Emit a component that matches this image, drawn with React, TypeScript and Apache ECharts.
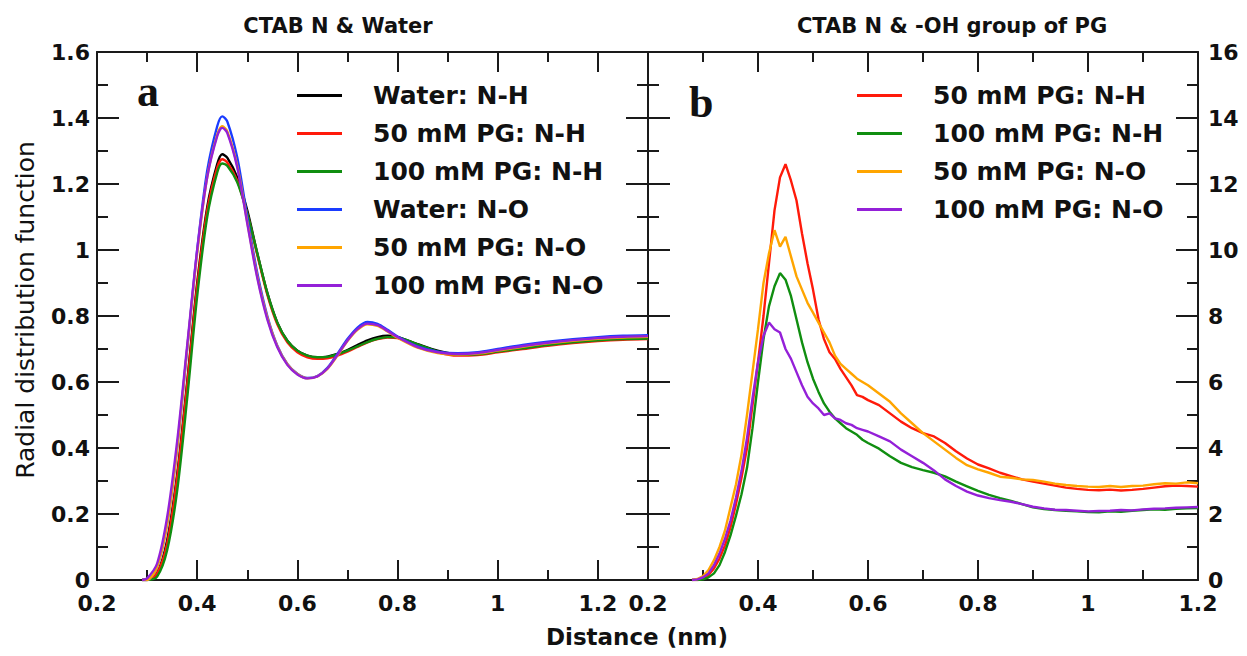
import React, { useEffect, useRef } from 'react';
import * as echarts from 'echarts';

// ---------- Panel a : CTAB N & Water ----------
const LEFT_X = [0.29, 0.30, 0.32, 0.34, 0.36, 0.38, 0.40, 0.42, 0.44, 0.45, 0.46, 0.48, 0.50, 0.52, 0.54, 0.56, 0.58, 0.60, 0.62, 0.64, 0.66, 0.68, 0.70, 0.72, 0.74, 0.76, 0.78, 0.80, 0.84, 0.88, 0.92, 0.96, 1.00, 1.05, 1.10, 1.15, 1.20, 1.25, 1.30];
const WATER_NH = [0, 0, 0.02, 0.12, 0.32, 0.60, 0.90, 1.13, 1.26, 1.29, 1.28, 1.22, 1.12, 0.99, 0.87, 0.78, 0.725, 0.695, 0.68, 0.675, 0.677, 0.685, 0.697, 0.712, 0.726, 0.736, 0.74, 0.737, 0.715, 0.695, 0.685, 0.687, 0.695, 0.705, 0.715, 0.723, 0.729, 0.733, 0.735];
const PG50_NH = [0, 0, 0.02, 0.11, 0.31, 0.59, 0.89, 1.12, 1.25, 1.275, 1.265, 1.21, 1.11, 0.985, 0.865, 0.775, 0.72, 0.69, 0.675, 0.67, 0.672, 0.68, 0.692, 0.706, 0.72, 0.73, 0.735, 0.733, 0.712, 0.69, 0.68, 0.682, 0.69, 0.70, 0.71, 0.718, 0.724, 0.728, 0.73];
const PG100_NH = [0, 0, 0.01, 0.09, 0.27, 0.55, 0.86, 1.10, 1.235, 1.262, 1.255, 1.205, 1.11, 0.99, 0.87, 0.78, 0.725, 0.695, 0.68, 0.675, 0.676, 0.684, 0.695, 0.708, 0.721, 0.731, 0.736, 0.735, 0.714, 0.693, 0.683, 0.684, 0.692, 0.702, 0.712, 0.72, 0.726, 0.73, 0.732];
const WATER_NO = [0, 0, 0.04, 0.17, 0.40, 0.70, 1.00, 1.24, 1.375, 1.405, 1.39, 1.28, 1.10, 0.93, 0.80, 0.71, 0.655, 0.625, 0.612, 0.618, 0.643, 0.685, 0.73, 0.765, 0.782, 0.776, 0.758, 0.738, 0.708, 0.692, 0.687, 0.69, 0.70, 0.712, 0.722, 0.73, 0.736, 0.74, 0.742];
const PG50_NO = [0, 0, 0.04, 0.17, 0.40, 0.70, 0.99, 1.22, 1.35, 1.375, 1.36, 1.255, 1.085, 0.92, 0.795, 0.708, 0.654, 0.624, 0.611, 0.617, 0.64, 0.68, 0.724, 0.758, 0.775, 0.77, 0.753, 0.734, 0.704, 0.688, 0.683, 0.686, 0.695, 0.707, 0.717, 0.725, 0.731, 0.735, 0.737];
const PG100_NO = [0, 0.005, 0.05, 0.19, 0.42, 0.71, 1.0, 1.22, 1.345, 1.37, 1.355, 1.25, 1.08, 0.915, 0.79, 0.705, 0.652, 0.623, 0.611, 0.617, 0.641, 0.682, 0.726, 0.76, 0.777, 0.772, 0.755, 0.736, 0.706, 0.69, 0.685, 0.688, 0.697, 0.709, 0.719, 0.727, 0.733, 0.737, 0.739];

// ---------- Panel b : CTAB N & -OH group of PG ----------
const RIGHT_X = [0.28, 0.29, 0.30, 0.31, 0.32, 0.33, 0.34, 0.35, 0.36, 0.37, 0.38, 0.39, 0.40, 0.41, 0.42, 0.43, 0.44, 0.45, 0.46, 0.47, 0.48, 0.49, 0.50, 0.51, 0.52, 0.53, 0.54, 0.55, 0.56, 0.57, 0.58, 0.59, 0.60,
  0.62, 0.64, 0.66, 0.68, 0.70, 0.72, 0.74, 0.76, 0.78, 0.80, 0.82, 0.84, 0.86, 0.88, 0.90, 0.92, 0.94, 0.96, 0.98, 1.00, 1.02, 1.04, 1.06, 1.08, 1.10, 1.12, 1.14, 1.16, 1.18, 1.20];
const OH_PG50_NH = [0, 0, 0.05, 0.15, 0.35, 0.65, 1.05, 1.6, 2.3, 3.1, 4.0, 5.3, 6.6, 8.0, 9.6, 11.2, 12.2, 12.6, 12.1, 11.5, 10.5, 9.6, 8.8, 7.9, 7.3, 6.9, 6.7, 6.4, 6.15, 5.9, 5.6, 5.55, 5.45,
  5.3, 5.05, 4.8, 4.6, 4.45, 4.35, 4.15, 3.9, 3.68, 3.5, 3.38, 3.25, 3.15, 3.05, 2.98, 2.92, 2.86, 2.8, 2.76, 2.73, 2.72, 2.74, 2.71, 2.73, 2.76, 2.8, 2.84, 2.86, 2.85, 2.83];
const OH_PG100_NH = [0, 0, 0.02, 0.08, 0.2, 0.45, 0.85, 1.35, 1.95, 2.6, 3.4, 4.6, 6.0, 7.3, 8.3, 8.9, 9.3, 9.1, 8.6, 7.9, 7.2, 6.6, 6.1, 5.7, 5.35, 5.1, 4.9, 4.75, 4.6, 4.5, 4.4, 4.25, 4.15,
  3.98, 3.75, 3.55, 3.42, 3.33, 3.25, 3.14, 2.98, 2.84, 2.7, 2.58, 2.48, 2.4, 2.3, 2.2, 2.15, 2.12, 2.1, 2.08, 2.06, 2.05, 2.08, 2.07, 2.1, 2.12, 2.14, 2.13, 2.16, 2.17, 2.18];
const OH_PG50_NO = [0, 0.03, 0.12, 0.3, 0.6, 1.0, 1.5, 2.2, 2.9, 3.8, 5.0, 6.3, 7.6, 9.0, 9.9, 10.6, 10.1, 10.4, 9.8, 9.2, 8.8, 8.4, 8.1, 7.8, 7.5, 7.2, 6.8, 6.55, 6.4, 6.25, 6.1, 6.0, 5.9,
  5.65, 5.4, 5.05, 4.75, 4.45, 4.2, 3.95, 3.7, 3.48, 3.35, 3.25, 3.13, 3.1, 3.05, 3.03, 2.98, 2.92, 2.88, 2.85, 2.83, 2.82, 2.85, 2.82, 2.85, 2.86, 2.9, 2.93, 2.92, 2.96, 2.93];
const OH_PG100_NO = [0, 0.02, 0.08, 0.2, 0.45, 0.8, 1.25, 1.8, 2.5, 3.3, 4.3, 5.5, 6.6, 7.4, 7.8, 7.6, 7.5, 7.0, 6.7, 6.3, 5.9, 5.55, 5.35, 5.2, 5.0, 5.05, 4.9, 4.85, 4.75, 4.7, 4.6, 4.55, 4.5,
  4.35, 4.2, 3.95, 3.75, 3.55, 3.32, 3.05, 2.85, 2.68, 2.56, 2.48, 2.42, 2.37, 2.3, 2.22, 2.17, 2.13, 2.12, 2.1, 2.08, 2.09, 2.1, 2.12, 2.11, 2.14, 2.16, 2.17, 2.19, 2.2, 2.21];

const NAME_WATER_NH = 'Water: N-H';
const NAME_PG50_NH = '50 mM PG: N-H';
const NAME_PG100_NH = '100 mM PG: N-H';
const NAME_WATER_NO = 'Water: N-O';
const NAME_PG50_NO = '50 mM PG: N-O';
const NAME_PG100_NO = '100 mM PG: N-O';

const COL_BLACK = '#000000';
const COL_RED = '#ff1a0a';
const COL_GREEN = '#108e10';
const COL_BLUE = '#1a3cff';
const COL_ORANGE = '#ffa500';
const COL_PURPLE = '#9420d8';

const FONT = "'DejaVu Sans', 'Liberation Sans', Arial, sans-serif";
const AX = '#1a1a1a';

function axis(gridIndex: number, position: string, min: number, max: number, interval: number, major: boolean, labels: boolean, isX: boolean, extra: any = {}) {
  return {
    type: 'value',
    gridIndex,
    position,
    min,
    max,
    interval,
    axisLine: { show: major, onZero: false, lineStyle: { color: AX, width: 2 } },
    axisTick: { show: true, inside: true, length: major ? (isX ? 20 : 22) : (isX ? 10 : 11), lineStyle: { color: AX, width: 2 } },
    axisLabel: {
      show: labels,
      color: '#111',
      fontFamily: FONT,
      fontWeight: 'bold',
      fontSize: 22,
      margin: isX ? 12 : 7,
      ...extra,
    },
    splitLine: { show: false },
    z: major ? 3 : 2,
  };
}

function pairs(xs: number[], ys: number[]) {
  return xs.map((x, i) => [x, ys[i]]);
}

function line(name: string, color: string, xs: number[], ys: number[], xi: number, yi: number, smooth: boolean | number) {
  return {
    type: 'line',
    name,
    xAxisIndex: xi,
    yAxisIndex: yi,
    data: pairs(xs, ys),
    symbol: 'none',
    showSymbol: false,
    smooth,
    lineStyle: { color, width: 2.4 },
    itemStyle: { color },
    z: 4,
  };
}

const legendText = { fontFamily: FONT, fontWeight: 'bold', fontSize: 25, lineHeight: 24, color: '#111', padding: [0, 0, 0, 26] };
const legendBase = {
  orient: 'vertical', itemWidth: 45, itemHeight: 3, itemGap: 13, icon: 'rect', padding: 0,
  selectedMode: false, textStyle: legendText,
};

export default function App() {
  const ref = useRef<HTMLDivElement>(null);
  useEffect(() => {
    const chart = echarts.init(ref.current!, undefined, { renderer: 'svg' });
    const option: any = {
      animation: false,
      backgroundColor: '#ffffff',
      grid: [
        { left: 97, top: 52, width: 551, height: 528 },
        { left: 648, top: 52, width: 550, height: 528 },
      ],
      xAxis: [
        axis(0, 'bottom', 0.2, 1.3, 0.2, true, true, true, { formatter: (v: number) => (v > 1.25 ? '' : String(v)) }),
        axis(0, 'bottom', 0.2, 1.3, 0.1, false, false, true),
        axis(0, 'top', 0.2, 1.3, 0.2, true, false, true),
        axis(0, 'top', 0.2, 1.3, 0.1, false, false, true),
        axis(1, 'bottom', 0.2, 1.2, 0.2, true, true, true),
        axis(1, 'bottom', 0.2, 1.2, 0.1, false, false, true),
        axis(1, 'top', 0.2, 1.2, 0.2, true, false, true),
        axis(1, 'top', 0.2, 1.2, 0.1, false, false, true),
      ],
      yAxis: [
        axis(0, 'left', 0, 1.6, 0.2, true, true, false),
        axis(0, 'left', 0, 1.6, 0.1, false, false, false),
        axis(0, 'right', 0, 1.6, 0.2, true, false, false),
        axis(0, 'right', 0, 1.6, 0.1, false, false, false),
        axis(1, 'left', 0, 16, 2, true, false, false),
        axis(1, 'left', 0, 16, 1, false, false, false),
        axis(1, 'right', 0, 16, 2, true, true, false, { margin: 10 }),
        axis(1, 'right', 0, 16, 1, false, false, false),
      ],
      legend: [
        {
          ...legendBase,
          data: [NAME_WATER_NH, NAME_PG50_NH, NAME_PG100_NH, NAME_WATER_NO, NAME_PG50_NO, NAME_PG100_NO],
          left: 297, top: 83,
        },
        {
          ...legendBase,
          data: [NAME_PG50_NH, NAME_PG100_NH, NAME_PG50_NO, NAME_PG100_NO],
          left: 857, top: 83,
        },
      ],
      graphic: [
        { type: 'text', x: 338, y: 26, style: { text: 'CTAB N & Water', font: `bold 21px ${FONT}`, fill: '#111', textAlign: 'center', textVerticalAlign: 'middle' } },
        { type: 'text', x: 952, y: 26, style: { text: 'CTAB N & -OH group of PG', font: `bold 21px ${FONT}`, fill: '#111', textAlign: 'center', textVerticalAlign: 'middle' } },
        { type: 'text', x: 137, y: 113, style: { text: 'a', font: `bold 44px 'Liberation Serif', 'DejaVu Serif', serif`, fill: '#111', textAlign: 'left', textVerticalAlign: 'bottom' } },
        { type: 'text', x: 689, y: 124, style: { text: 'b', font: `bold 44px 'Liberation Serif', 'DejaVu Serif', serif`, fill: '#111', textAlign: 'left', textVerticalAlign: 'bottom' } },
        { type: 'text', x: 637, y: 637, style: { text: 'Distance (nm)', font: `bold 23px ${FONT}`, fill: '#111', textAlign: 'center', textVerticalAlign: 'middle' } },
        { type: 'text', x: 25, y: 310, rotation: Math.PI / 2, style: { text: 'Radial distribution function', font: `25px ${FONT}`, fill: '#111', textAlign: 'center', textVerticalAlign: 'middle' } },
      ],
      series: [
        line(NAME_WATER_NH, COL_BLACK, LEFT_X, WATER_NH, 0, 0, 0.3),
        line(NAME_PG50_NH, COL_RED, LEFT_X, PG50_NH, 0, 0, 0.3),
        line(NAME_PG100_NH, COL_GREEN, LEFT_X, PG100_NH, 0, 0, 0.3),
        line(NAME_WATER_NO, COL_BLUE, LEFT_X, WATER_NO, 0, 0, 0.3),
        line(NAME_PG50_NO, COL_ORANGE, LEFT_X, PG50_NO, 0, 0, 0.3),
        line(NAME_PG100_NO, COL_PURPLE, LEFT_X, PG100_NO, 0, 0, 0.3),
        line(NAME_PG50_NH, COL_RED, RIGHT_X, OH_PG50_NH, 4, 6, false),
        line(NAME_PG100_NH, COL_GREEN, RIGHT_X, OH_PG100_NH, 4, 6, false),
        line(NAME_PG50_NO, COL_ORANGE, RIGHT_X, OH_PG50_NO, 4, 6, false),
        line(NAME_PG100_NO, COL_PURPLE, RIGHT_X, OH_PG100_NO, 4, 6, false),
      ],
    };
    chart.setOption(option);
    return () => chart.dispose();
  }, []);
  return <div ref={ref} style={{ position: 'fixed', left: 0, top: 0, width: 1247, height: 656, background: '#fff' }} />;
}
